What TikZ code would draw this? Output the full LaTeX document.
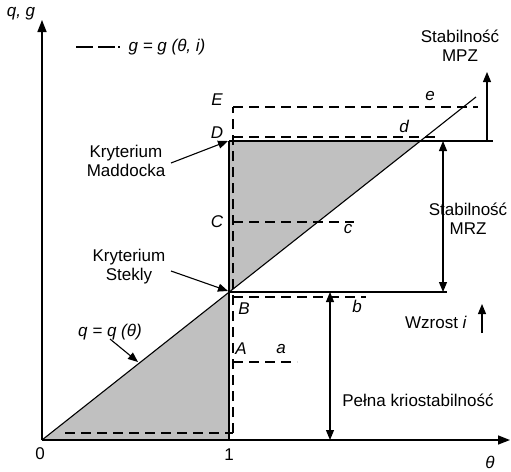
\documentclass[tikz,border=0pt]{standalone}
\usepackage{fontspec}
\setmainfont{Liberation Sans}
\usetikzlibrary{arrows.meta}
\definecolor{fillgrey}{RGB}{192,192,192}
\begin{document}
\begin{tikzpicture}[x=1pt,y=-1pt,
  font=\fontsize{17}{19}\selectfont,
  ax/.style={line width=1.5pt},
  ln/.style={line width=1.1pt},
  dsh/.style={line width=1.4pt, dash pattern=on 10pt off 6pt},
  arr/.style={-{Triangle[length=10pt,width=8pt]}, line width=1.1pt},
  darr/.style={{Triangle[length=10pt,width=8pt]}-{Triangle[length=10pt,width=8pt]}, line width=1.1pt},
  lbl/.style={inner sep=0pt, font=\fontsize{17}{19}\selectfont\itshape},
  txt/.style={inner sep=0pt, align=center}]
\useasboundingbox (0,0) rectangle (511,471);
% key points
\coordinate (O) at (42,440);
\coordinate (Ytop) at (42,20);
\coordinate (Xend) at (510,440);
\coordinate (One) at (229,440);
\coordinate (S) at (229,292);
\coordinate (Dp) at (229,141);
\coordinate (X) at (421,141);
\coordinate (Lend) at (476,97);
% fills
\fill[fillgrey] (O) -- (S) -- (One) -- cycle;
\fill[fillgrey] (S) -- (Dp) -- (X) -- cycle;
% solid lines
\draw[ln] (O) -- (Lend);
\draw[ln] (One) -- (Dp);
\coordinate (DR) at (493,141);
\draw[ln] (Dp) -- (DR);
\coordinate (BR) at (447,292);
\draw[ln] (S) -- (BR);
% dashed
\coordinate (bl) at (65,433);
\coordinate (bc) at (233,433);
\coordinate (Ec) at (233,107);
\draw[dsh] (bl) -- (bc);
\draw[dsh] (bc) -- (Ec);
\coordinate (Aa) at (233,362); \coordinate (Ab) at (297,362);
\coordinate (Ba) at (233,297); \coordinate (Bb) at (366,297);
\coordinate (Ca) at (233,222); \coordinate (Cb) at (354,222);
\coordinate (Da) at (233,137); \coordinate (Db) at (438,137);
\coordinate (Ea) at (233,107); \coordinate (Eb) at (478,107);
\draw[dsh] (Aa) -- (Ab);
\draw[dsh] (Ba) -- (Bb);
\draw[dsh] (Ca) -- (Cb);
\draw[dsh] (Da) -- (Db);
\draw[dsh] (Ea) -- (Eb);
% axes
\draw[ax,-{Triangle[length=12pt,width=9pt]}] (O) -- (Ytop);
\draw[ax,-{Triangle[length=12pt,width=9pt]}] (O) -- (Xend);
% axis labels
\node[lbl] (qg) at (21,14) {q, g};
\node[txt] (zero) at (40,454) {0};
\node[txt] (one) at (229,455) {1};
\node[lbl] (th) at (490,462) {θ};
% legend
\coordinate (L1) at (76,47); \coordinate (L2) at (120,47);
\draw[line width=1.4pt, dash pattern=on 17pt off 5pt on 17pt off 3pt on 2pt] (L1) -- (L2);
\node[lbl] (leg) at (167,47) {g = g (θ, i)};
% point labels
\node[lbl] (lA) at (241,349) {A};
\node[lbl] (la) at (281,349) {a};
\node[lbl] (lB) at (244,309) {B};
\node[lbl] (lb) at (357,306) {b};
\node[lbl] (lC) at (217,222) {C};
\node[lbl] (lc) at (348,229) {c};
\node[lbl] (lD) at (217,133) {D};
\node[lbl] (ld) at (404,126) {d};
\node[lbl] (lE) at (217,100) {E};
\node[lbl] (le) at (430,96) {e};
% texts
\node[txt] (mad) at (126,161) {Kryterium\\Maddocka};
\node[txt] (stek) at (129,267) {Kryterium\\Stekly};
\node[lbl] (qq) at (110,332) {q = q (θ)};
\node[txt] (mpz) at (460,46) {Stabilność\\MPZ};
\node[txt] (mrz) at (468,219) {Stabilność\\MRZ};
\node[txt] (wz) at (436,322) {Wzrost \textit{i}};
\node[txt] (pk) at (418,400) {Pełna kriostabilność};
% annotation arrows
\coordinate (madS) at (171,163);
\coordinate (madE) at (228,141);
\draw[arr] (madS) -- (madE);
\coordinate (stS) at (171,271);
\coordinate (stE) at (228,291);
\draw[arr] (stS) -- (stE);
\coordinate (qS) at (110,339);
\coordinate (qE) at (138,362);
\draw[arr] (qS) -- (qE);
\coordinate (mpzB) at (487,141);
\coordinate (mpzT) at (487,72);
\draw[arr] (mpzB) -- (mpzT);
\coordinate (mrzT) at (443,141);
\coordinate (mrzB) at (443,292);
\draw[darr] (mrzT) -- (mrzB);
\coordinate (pkT) at (330,292);
\coordinate (pkB) at (330,440);
\draw[darr] (pkT) -- (pkB);
\coordinate (wzB) at (482,333);
\coordinate (wzT) at (482,304);
\draw[arr] (wzB) -- (wzT);
\end{tikzpicture}
\end{document}
